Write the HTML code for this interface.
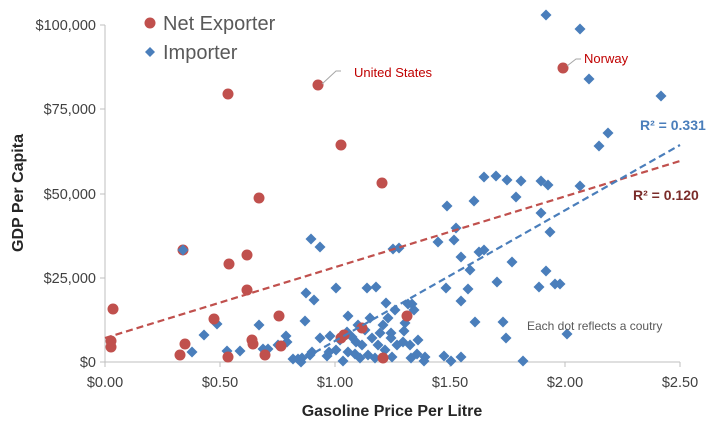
<!DOCTYPE html>
<html><head><meta charset="utf-8"><style>
html,body{margin:0;padding:0;background:#fff;}
svg{display:block;font-family:"Liberation Sans",sans-serif;}
</style></head><body>
<svg width="710" height="429" viewBox="0 0 710 429" xmlns="http://www.w3.org/2000/svg">
<defs>
<path id="d" d="M0,-5.5 L5.5,0 L0,5.5 L-5.5,0Z" fill="#4a7ebb"/>
<circle id="c" r="5.5" fill="#c0504d"/>
</defs>
<line x1="105" y1="25" x2="105" y2="362" stroke="#bfbfbf"/>
<line x1="105" y1="362" x2="680" y2="362" stroke="#bfbfbf"/>
<g stroke="#bfbfbf">
<line x1="100" y1="25" x2="105" y2="25"/><line x1="100" y1="109" x2="105" y2="109"/>
<line x1="100" y1="194" x2="105" y2="194"/><line x1="100" y1="278" x2="105" y2="278"/>
<line x1="100" y1="362" x2="105" y2="362"/>
<line x1="105" y1="362" x2="105" y2="367"/><line x1="220" y1="362" x2="220" y2="367"/>
<line x1="335" y1="362" x2="335" y2="367"/><line x1="450" y1="362" x2="450" y2="367"/>
<line x1="565" y1="362" x2="565" y2="367"/><line x1="680" y1="362" x2="680" y2="367"/>
</g>
<g font-size="14.5" fill="#404040" text-anchor="end">
<text x="96" y="30">$100,000</text><text x="96" y="114">$75,000</text>
<text x="96" y="199">$50,000</text><text x="96" y="283">$25,000</text><text x="96" y="367">$0</text>
</g>
<g font-size="14.5" fill="#404040" text-anchor="middle">
<text x="105" y="387">$0.00</text><text x="220" y="387">$0.50</text><text x="335" y="387">$1.00</text>
<text x="450" y="387">$1.50</text><text x="565" y="387">$2.00</text><text x="680" y="387">$2.50</text>
</g>
<text x="392" y="416" font-size="16" font-weight="bold" fill="#262626" text-anchor="middle">Gasoline Price Per Litre</text>
<text transform="translate(23,193) rotate(-90)" font-size="16" font-weight="bold" fill="#262626" text-anchor="middle">GDP Per Capita</text>
<g>
<use href="#d" x="546" y="15"/><use href="#d" x="580" y="29"/><use href="#d" x="589" y="79"/><use href="#d" x="661" y="96"/>
<use href="#d" x="608" y="133"/><use href="#d" x="599" y="146"/><use href="#d" x="484" y="177"/><use href="#d" x="496" y="176"/>
<use href="#d" x="507" y="180"/><use href="#d" x="521" y="181"/><use href="#d" x="541" y="181"/><use href="#d" x="548" y="185"/>
<use href="#d" x="516" y="197"/><use href="#d" x="580" y="186"/><use href="#d" x="447" y="206"/><use href="#d" x="474" y="201"/>
<use href="#d" x="541" y="213"/><use href="#d" x="550" y="232"/><use href="#d" x="456" y="228"/><use href="#d" x="438" y="242"/>
<use href="#d" x="454" y="240"/><use href="#d" x="461" y="257"/><use href="#d" x="479" y="252"/><use href="#d" x="484" y="250"/>
<use href="#d" x="393" y="249"/><use href="#d" x="399" y="248"/><use href="#d" x="470" y="270"/><use href="#d" x="512" y="262"/>
<use href="#d" x="546" y="271"/><use href="#d" x="446" y="288"/><use href="#d" x="468" y="289"/><use href="#d" x="497" y="282"/>
<use href="#d" x="539" y="287"/><use href="#d" x="555" y="284"/><use href="#d" x="560" y="284"/><use href="#d" x="461" y="301"/>
<use href="#d" x="412" y="304"/><use href="#d" x="414" y="310"/><use href="#d" x="408" y="304"/><use href="#d" x="475" y="322"/>
<use href="#d" x="503" y="322"/><use href="#d" x="506" y="338"/><use href="#d" x="567" y="334"/><use href="#d" x="523" y="361"/>
<use href="#d" x="451" y="361"/><use href="#d" x="461" y="357"/><use href="#d" x="444" y="356"/><use href="#d" x="424" y="361"/>
<use href="#d" x="425" y="357"/><use href="#d" x="391" y="338"/><use href="#d" x="391" y="333"/><use href="#d" x="405" y="323"/>
<use href="#d" x="404" y="331"/><use href="#d" x="417" y="354"/><use href="#d" x="411" y="358"/><use href="#d" x="183" y="250"/>
<use href="#d" x="311" y="239"/><use href="#d" x="320" y="247"/><use href="#d" x="306" y="293"/><use href="#d" x="314" y="300"/>
<use href="#d" x="305" y="321"/><use href="#d" x="336" y="288"/><use href="#d" x="367" y="288"/><use href="#d" x="376" y="287"/>
<use href="#d" x="348" y="316"/><use href="#d" x="348" y="352"/><use href="#d" x="340" y="340"/><use href="#d" x="356" y="342"/>
<use href="#d" x="347" y="332"/><use href="#d" x="329" y="352"/><use href="#d" x="312" y="352"/><use href="#d" x="293" y="359"/>
<use href="#d" x="298" y="359"/><use href="#d" x="310" y="355"/><use href="#d" x="327" y="356"/><use href="#d" x="343" y="361"/>
<use href="#d" x="355" y="354"/><use href="#d" x="259" y="325"/><use href="#d" x="227" y="351"/><use href="#d" x="192" y="352"/>
<use href="#d" x="204" y="335"/><use href="#d" x="217" y="324"/><use href="#d" x="286" y="336"/><use href="#d" x="287" y="342"/>
<use href="#d" x="263" y="349"/><use href="#d" x="268" y="349"/><use href="#d" x="240" y="351"/><use href="#d" x="278" y="345"/>
<use href="#d" x="301" y="362"/><use href="#d" x="302" y="358"/>
<use href="#d" x="365" y="330"/><use href="#d" x="372" y="338"/><use href="#d" x="378" y="345"/><use href="#d" x="385" y="350"/>
<use href="#d" x="368" y="355"/><use href="#d" x="375" y="358"/><use href="#d" x="360" y="358"/><use href="#d" x="392" y="357"/>
<use href="#d" x="397" y="345"/><use href="#d" x="383" y="325"/><use href="#d" x="388" y="318"/><use href="#d" x="370" y="318"/>
<use href="#d" x="362" y="345"/><use href="#d" x="358" y="325"/><use href="#d" x="403" y="342"/><use href="#d" x="395" y="310"/>
<use href="#d" x="386" y="303"/><use href="#d" x="380" y="333"/><use href="#d" x="410" y="345"/><use href="#d" x="418" y="340"/>
<use href="#d" x="352" y="337"/><use href="#d" x="336" y="350"/><use href="#d" x="320" y="338"/><use href="#d" x="330" y="336"/>
</g>
<g>
<use href="#c" x="113" y="309"/><use href="#c" x="111" y="341"/><use href="#c" x="111" y="347"/><use href="#c" x="180" y="355"/>
<use href="#c" x="185" y="344"/><use href="#c" x="228" y="357"/><use href="#c" x="228" y="94"/><use href="#c" x="318" y="85"/>
<use href="#c" x="341" y="145"/><use href="#c" x="382" y="183"/><use href="#c" x="259" y="198"/><use href="#c" x="247" y="255"/>
<use href="#c" x="229" y="264"/><use href="#c" x="247" y="290"/><use href="#c" x="214" y="319"/><use href="#c" x="279" y="316"/>
<use href="#c" x="252" y="340"/><use href="#c" x="253" y="344"/><use href="#c" x="265" y="355"/><use href="#c" x="281" y="346"/>
<use href="#c" x="341" y="338"/><use href="#c" x="344" y="335"/><use href="#c" x="362" y="328"/><use href="#c" x="383" y="358"/>
<use href="#c" x="563" y="68"/><use href="#c" x="407" y="316"/><use href="#c" x="183" y="250"/>
</g>
<use href="#d" x="183" y="250"/>
<line x1="105" y1="338" x2="680" y2="161" stroke="#c0504d" stroke-width="2.2" stroke-dasharray="7,4"/>
<line x1="305" y1="358" x2="680" y2="145" stroke="#4a7ebb" stroke-width="2.2" stroke-dasharray="7,4"/>
<text x="640" y="130" font-size="14" font-weight="bold" fill="#4a7ebb">R² = 0.331</text>
<text x="633" y="200" font-size="14" font-weight="bold" fill="#7b2c2a">R² = 0.120</text>
<text x="527" y="330" font-size="12" fill="#595959">Each dot reflects a coutry</text>
<polyline points="322,84 336,71 341,71" fill="none" stroke="#a6a6a6"/>
<text x="354" y="77" font-size="13" fill="#c00000">United States</text>
<polyline points="567,66 576,59 581,59" fill="none" stroke="#a6a6a6"/>
<text x="584" y="63" font-size="13" fill="#c00000">Norway</text>
<circle cx="150" cy="23" r="5.5" fill="#c0504d"/>
<text x="163" y="30" font-size="20" fill="#595959">Net Exporter</text>
<path d="M150,47 L155,52 L150,57 L145,52Z" fill="#4a7ebb"/>
<text x="163" y="59" font-size="20" fill="#595959">Importer</text>
</svg>
</body></html>
